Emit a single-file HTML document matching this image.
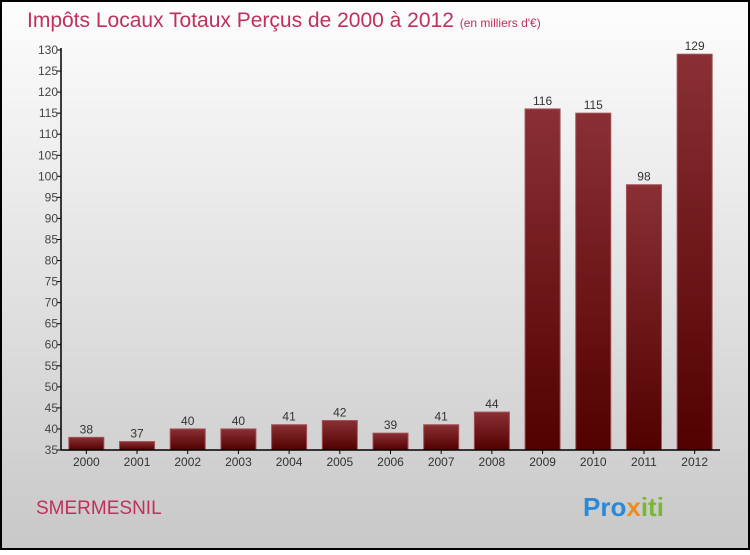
<!DOCTYPE html>
<html><head><meta charset="utf-8"><style>
body{margin:0;width:750px;height:550px;overflow:hidden;font-family:"Liberation Sans",sans-serif}
</style></head><body>
<svg id="chart" width="750" height="550" xmlns="http://www.w3.org/2000/svg">
<defs>
<linearGradient id="bg" x1="0" y1="0" x2="0" y2="1"><stop offset="0" stop-color="#fdfdfd"/><stop offset="1" stop-color="#c8c8c8"/></linearGradient>
<linearGradient id="bar" x1="0" y1="0" x2="0" y2="1"><stop offset="0" stop-color="#8a3035"/><stop offset="1" stop-color="#520000"/></linearGradient>
</defs>
<rect x="1" y="1" width="748" height="548" fill="url(#bg)" stroke="#000" stroke-width="2"/>
<text x="27" y="27" font-size="21" fill="#c0305a">Impôts Locaux Totaux Perçus de 2000 à 2012 <tspan font-size="12">(en milliers d'€)</tspan></text>
<text x="36" y="514" font-size="19" fill="#c0305a">SMERMESNIL</text>
<text x="583" y="516" font-size="26" font-weight="bold"><tspan fill="#2a8ad8">Pro</tspan><tspan fill="#f08c1e">x</tspan><tspan fill="#7ab832">iti</tspan></text>
<g id="plot"></g>
</svg>
<script>
const categories=["2000","2001","2002","2003","2004","2005","2006","2007","2008","2009","2010","2011","2012"];
const values=[38,37,40,40,41,42,39,41,44,116,115,98,129];
const yTicks=[35,40,45,50,55,60,65,70,75,80,85,90,95,100,105,110,115,120,125,130];
const NS="http://www.w3.org/2000/svg";
const g=document.getElementById('plot');
const x0=61,x1=720,yTop=50,yBot=450,vMin=35,vMax=130;
const step=(x1-x0)/categories.length,bw=35;
const y=v=>yBot-(v-vMin)/(vMax-vMin)*(yBot-yTop);
const xc=i=>x0+step*(i+0.5);
function mk(t,a){const e=document.createElementNS(NS,t);for(const k in a)e.setAttribute(k,a[k]);g.appendChild(e);return e;}
values.forEach((v,i)=>{
 const r=mk('rect',{x:xc(i)-bw/2,y:y(v),width:bw,height:yBot-y(v),fill:'url(#bar)',stroke:'#a05055','stroke-width':1});
 
 
 const t=mk('text',{x:xc(i),y:y(v)-4,'text-anchor':'middle','font-size':12,fill:'#333'});t.textContent=v;
 
 
 const c=mk('text',{x:xc(i),y:yBot+16,'text-anchor':'middle','font-size':12,fill:'#333'});c.textContent=categories[i];
 
 
 mk('line',{x1:xc(i),x2:xc(i),y1:yBot,y2:yBot+4,stroke:'#000'});
});
yTicks.forEach(v=>{
 mk('line',{x1:x0-4,x2:x0,y1:y(v),y2:y(v),stroke:'#000'});
 const t=mk('text',{x:x0-3,y:y(v)+4,'text-anchor':'end','font-size':12,fill:'#444'});t.textContent=v;
 
 
});
const ya=mk('line',{x1:x0,x2:x0,y1:yTop-2,y2:yBot,stroke:'#000','stroke-width':1.5});


const xa=mk('line',{x1:x0,x2:x1,y1:yBot,y2:yBot,stroke:'#000','stroke-width':1.5});


</script>
</body></html>
